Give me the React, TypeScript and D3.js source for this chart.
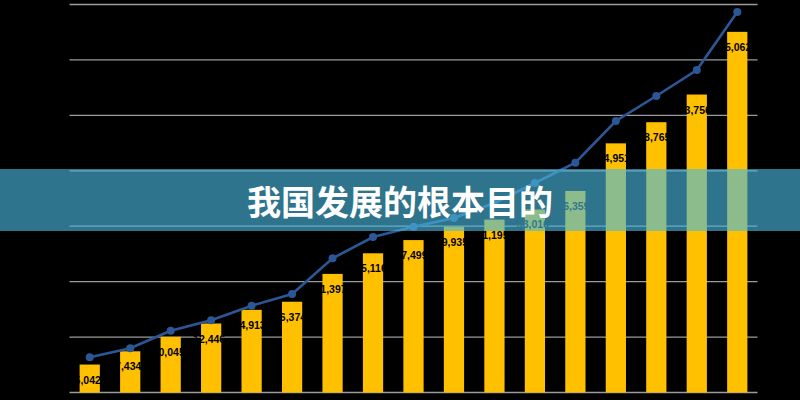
import * as d3 from "d3"

// chart values (axis labels are cropped away)
const categories = ["1", "2", "3", "4", "5", "6", "7", "8", "9", "10", "11", "12", "13", "14", "15", "16", "17"]
const barValues = [5042, 7434, 10045, 12446, 14913, 16374, 21397, 25116, 27499, 29935, 31195, 33016, 36359, 44951, 48765, 53756, 65062]
const lineValues = [6350, 7974, 11149, 13025, 15659, 17770, 24210, 28052, 29910, 31480, 34186, 37794, 41456, 48979, 53489, 58179, 68642]
const gridValues = [0, 10000, 20000, 30000, 40000, 50000, 60000, 70000]
const title = "我国发展的根本目的"

export default function App() {
  const width = 800
  const height = 400
  const margin = { top: 4.5, right: 42.5, bottom: 7.5, left: 69.5 }

  const x = d3
    .scaleBand<string>()
    .domain(categories)
    .range([margin.left, width - margin.right])
    .paddingInner(0.5)
    .paddingOuter(0.25)

  const y = d3
    .scaleLinear()
    .domain([0, 70000])
    .range([height - margin.bottom, margin.top])

  const fmt = d3.format(",")
  const cx = (i: number) => (x(categories[i]) ?? 0) + x.bandwidth() / 2

  const line = d3
    .line<number>()
    .x((_, i) => cx(i))
    .y((d) => y(d))

  return (
    <div style={{ position: "fixed", inset: 0, background: "#000" }}>
      <svg width={width} height={height} style={{ display: "block" }}>
        <rect width={width} height={height} fill="#000" />

        {/* gridlines */}
        {gridValues.map((v) => (
          <line
            key={v}
            x1={margin.left}
            x2={width - margin.right}
            y1={y(v)}
            y2={y(v)}
            stroke="#9b9b9b"
            strokeWidth={1.3}
          />
        ))}

        {/* bars */}
        {barValues.map((v, i) => (
          <rect
            key={i}
            x={x(categories[i])}
            y={y(v)}
            width={x.bandwidth()}
            height={y(0) - y(v)}
            fill="#ffc000"
          />
        ))}

        {/* bar labels, black text: only the part on the bar shows */}
        {barValues.map((v, i) => (
          <text
            key={i}
            x={cx(i) - 2}
            y={y(v) + 15}
            textAnchor="middle"
            dominantBaseline="central"
            fontFamily="'Liberation Sans', Arial, sans-serif"
            fontWeight={700}
            fontSize={10.5}
            fill="#000"
          >
            {fmt(v)}
          </text>
        ))}

        {/* line series */}
        <path d={line(lineValues) ?? ""} fill="none" stroke="#2b5797" strokeWidth={2.6} />
        {lineValues.map((v, i) => (
          <circle key={i} cx={cx(i)} cy={y(v)} r={4} fill="#2b5797" />
        ))}

        {/* title banner */}
        <rect x={0} y={169} width={width} height={62} fill="rgb(73,184,222)" fillOpacity={0.63} />
        <text
          x={width / 2}
          y={200.5}
          textAnchor="middle"
          dominantBaseline="central"
          fontFamily="'Noto Sans CJK SC', sans-serif"
          fontWeight={700}
          fontSize={34}
          fill="#fff"
        >
          {title}
        </text>
      </svg>
    </div>
  )
}
